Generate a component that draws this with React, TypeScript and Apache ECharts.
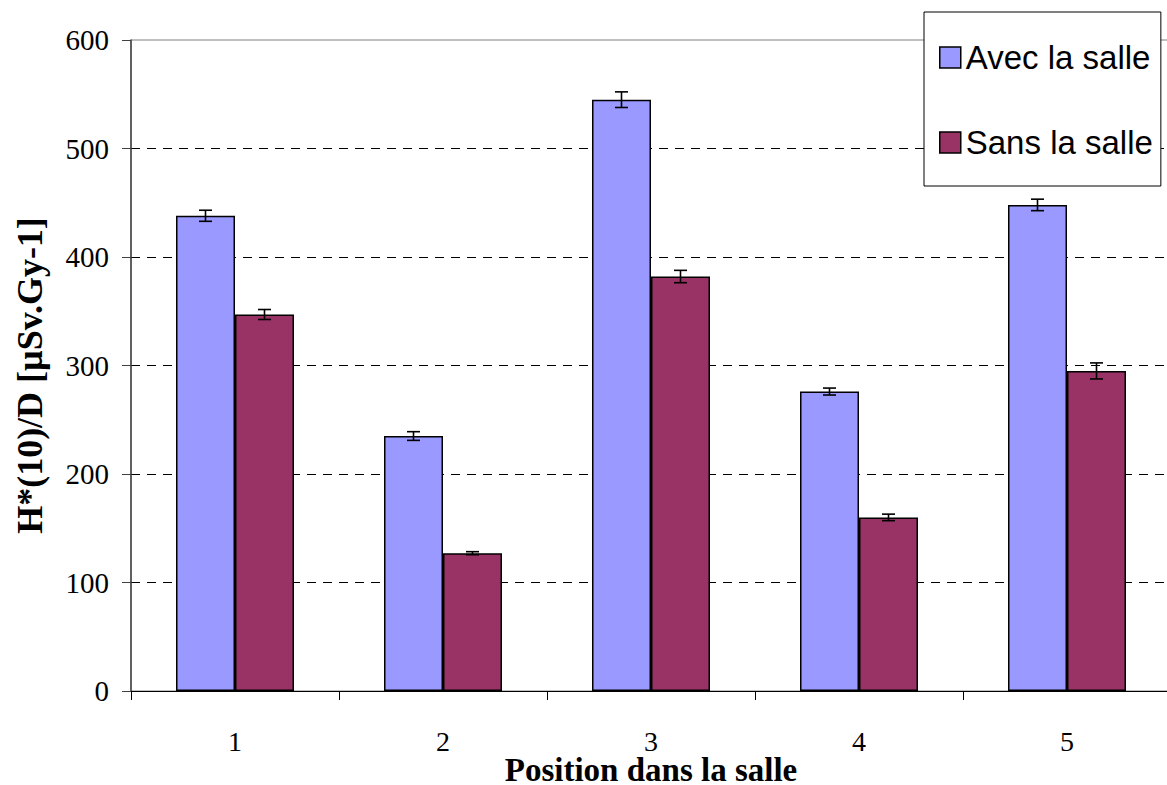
import React, { useEffect, useRef } from "react";
import * as echarts from "echarts";

const categories = ["1", "2", "3", "4", "5"];
const avecValues = [438, 235, 545, 276, 448];
const sansValues = [347, 127, 382, 160, 295];
const avecErrors = [5.1, 4, 7.2, 3.2, 5.3];
const sansErrors = [4.6, 1.4, 5.7, 3, 7.4];
const seriesNames = ["Avec la salle", "Sans la salle"];
const yTicks = { min: 0, max: 600, interval: 100 };

const BAR_W = 59;

function errorRenderer(offset: number) {
  return (params: any, api: any) => {
    const xi = api.value(0);
    const v = api.value(1);
    const e = api.value(2);
    const top = api.coord([xi, v + e]);
    const bot = api.coord([xi, v - e]);
    const x = top[0] + offset;
    const hw = 6.5;
    const style = { stroke: "#000", lineWidth: 1.6 };
    return {
      type: "group",
      children: [
        { type: "line", shape: { x1: x, y1: top[1], x2: x, y2: bot[1] }, style },
        { type: "line", shape: { x1: x - hw, y1: top[1], x2: x + hw, y2: top[1] }, style },
        { type: "line", shape: { x1: x - hw, y1: bot[1], x2: x + hw, y2: bot[1] }, style },
      ],
    };
  };
}

export default function App() {
  const ref = useRef<HTMLDivElement>(null);
  useEffect(() => {
    if (!ref.current) return;
    const chart = echarts.init(ref.current, null, { renderer: "svg" });
    chart.setOption({
      animation: false,
      backgroundColor: "#fff",
      grid: {
        left: 131,
        top: 40,
        width: 1040,
        height: 651,
        containLabel: false,
        outerBoundsMode: "none",
        show: true,
        borderColor: "#808080",
        borderWidth: 1,
        backgroundColor: "transparent",
      },
      legend: {
        orient: "vertical",
        left: 924,
        top: 12,
        padding: [29, 8, 27, 15],
        itemWidth: 21,
        itemHeight: 21,
        itemGap: 52,
        itemTextGap: 14,
        backgroundColor: "#fff",
        borderColor: "#000",
        borderWidth: 1,
        icon: "rect",
        textStyle: {
          fontFamily: "Liberation Sans",
          fontSize: 33,
          color: "#000",
          lineHeight: 33,
        },
        data: [
          { name: seriesNames[0], itemStyle: { borderColor: "#000", borderWidth: 1.5 } },
          { name: seriesNames[1], itemStyle: { borderColor: "#000", borderWidth: 1.5 } },
        ],
      },
      xAxis: {
        type: "category",
        data: categories,
        name: "Position dans la salle",
        nameLocation: "middle",
        nameGap: 66,
        nameMoveOverlap: false,
        nameTextStyle: {
          fontFamily: "Liberation Serif",
          fontSize: 33,
          fontWeight: "bold",
          color: "#000",
          lineHeight: 26,
        },
        axisLine: { lineStyle: { color: "#000", width: 1 } },
        axisTick: { show: true, length: 9, lineStyle: { color: "#000" } },
        axisLabel: {
          margin: 40,
          fontFamily: "Liberation Serif",
          fontSize: 28,
          lineHeight: 20,
          color: "#000",
        },
      },
      yAxis: {
        type: "value",
        min: yTicks.min,
        max: yTicks.max,
        interval: yTicks.interval,
        name: "H*(10)/D [µSv.Gy-1]",
        nameLocation: "middle",
        nameRotate: 90,
        nameGap: 83,
        nameMoveOverlap: false,
        nameTextStyle: {
          fontFamily: "Liberation Serif",
          fontSize: 36,
          fontWeight: "bold",
          color: "#000",
          padding: [0, 20, 0, 0],
        },
        axisLine: { show: true, lineStyle: { color: "#404040", width: 1.5 } },
        axisTick: { show: true, length: 9, lineStyle: { color: "#404040" } },
        axisLabel: {
          margin: 22,
          fontFamily: "Liberation Serif",
          fontSize: 29,
          color: "#000",
        },
        splitLine: {
          show: true,
          showMaxLine: false,
          lineStyle: { color: "#000", type: [9, 7], width: 1 },
        },
      },
      series: [
        {
          name: seriesNames[0],
          type: "bar",
          data: avecValues,
          barWidth: BAR_W,
          barGap: "0%",
          itemStyle: { color: "#9999FF", borderColor: "#000", borderWidth: 1.5 },
        },
        {
          name: seriesNames[1],
          type: "bar",
          data: sansValues,
          barWidth: BAR_W,
          barGap: "0%",
          itemStyle: { color: "#993366", borderColor: "#000", borderWidth: 1.5 },
        },
        {
          type: "custom",
          renderItem: errorRenderer(-BAR_W / 2),
          data: avecValues.map((v, i) => [i, v, avecErrors[i]]),
          z: 10,
          silent: true,
        },
        {
          type: "custom",
          renderItem: errorRenderer(BAR_W / 2),
          data: sansValues.map((v, i) => [i, v, sansErrors[i]]),
          z: 10,
          silent: true,
        },
      ],
    });
    return () => chart.dispose();
  }, []);
  return (
    <div
      ref={ref}
      style={{ position: "absolute", left: 0, top: 0, width: 1167, height: 785 }}
    />
  );
}
